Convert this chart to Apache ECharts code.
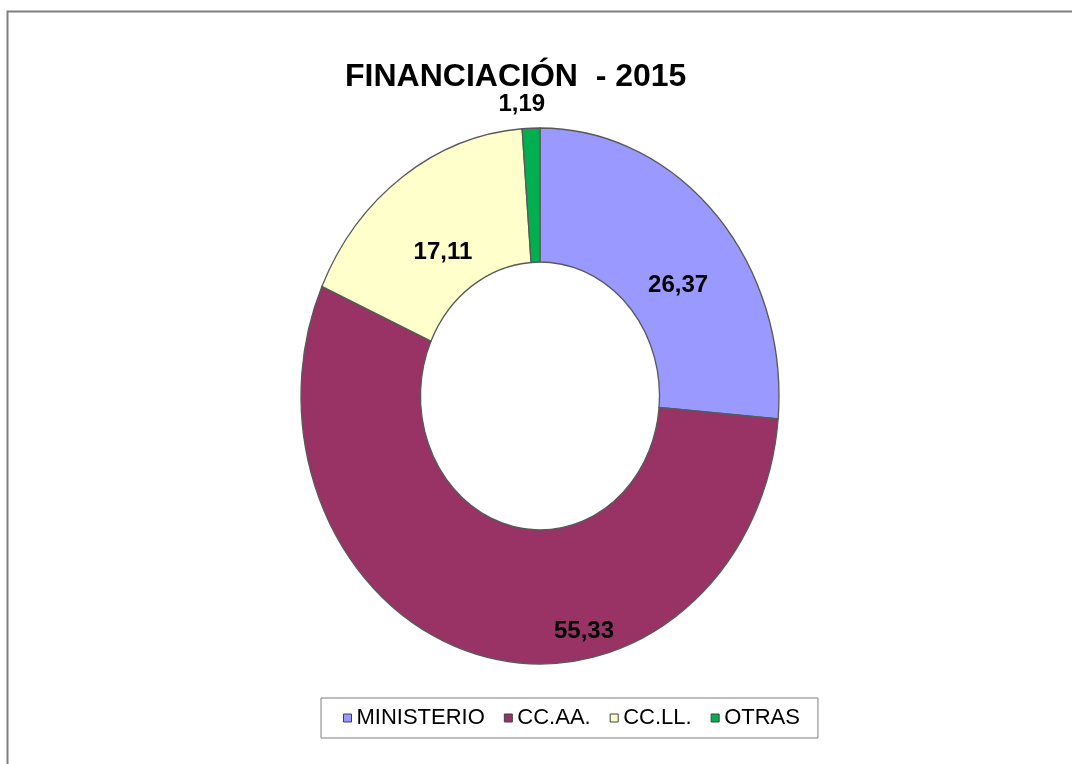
<!DOCTYPE html>
<html>
<head>
<meta charset="utf-8">
<script src="https://cdn.jsdelivr.net/npm/echarts@6/dist/echarts.min.js"></script>
<style>
html,body{margin:0;padding:0;background:#fff;}
#chart{width:1072px;height:764px;}
</style>
</head>
<body>
<div id="chart"></div>
<script>
var categories = ['MINISTERIO', 'CC.AA.', 'CC.LL.', 'OTRAS'];
var values = [26.37, 55.33, 17.11, 1.19];
var colors = ['#9999FF', '#993366', '#FFFFCC', '#00B050'];
var titleText = 'FINANCIACIÓN  - 2015';

// style-only settings
var ellipseRatio = 1.121;               // the ring is drawn taller than wide
var labelNudge = [[6, 25], [89, 41], [6, 21], [-11.5, -91]];
var fontFam = '"Liberation Sans", Arial, sans-serif';

var total = values.reduce(function (a, b) { return a + b; }, 0);
var starts = [];
values.reduce(function (acc, v, i) { starts[i] = acc; return acc + v; }, 0);

function fmt(v) { return String(v).replace('.', ','); }

function makeRender(idx) {
  return function (params, api) {
    var cs = params.coordSys;
    var cx = cs.cx, cy = cs.cy;
    var p0 = api.coord([1, api.value(0)]);
    var p1 = api.coord([1, api.value(1)]);
    var a0 = Math.atan2(p0[1] - cy, p0[0] - cx);
    var a1 = Math.atan2(p1[1] - cy, p1[0] - cx);
    if (a1 <= a0) a1 += Math.PI * 2;
    var am = (a0 + a1) / 2;
    var rm = (cs.r0 + cs.r) / 2;
    var lx = cx + rm * Math.cos(am) + labelNudge[idx][0];
    var ly = cy + rm * Math.sin(am) * ellipseRatio + labelNudge[idx][1];
    return {
      type: 'group',
      children: [{
        type: 'sector',
        shape: {cx: cx, cy: cy, r0: cs.r0, r: cs.r, startAngle: a0, endAngle: a1, clockwise: true},
        scaleY: ellipseRatio,
        originX: cx,
        originY: cy,
        style: {fill: colors[idx], stroke: '#595959', lineWidth: 1.3, strokeNoScale: true}
      }, {
        type: 'text',
        x: lx,
        y: ly,
        style: {
          text: fmt(values[idx]),
          fill: '#000',
          font: 'bold 24px ' + fontFam,
          align: 'center',
          verticalAlign: 'middle'
        }
      }]
    };
  };
}

var chart = echarts.init(document.getElementById('chart'), null, {renderer: 'canvas'});

var option = {
  backgroundColor: '#ffffff',
  animation: false,
  graphic: [{
    type: 'rect',
    shape: {x: 7.5, y: 11.5, width: 1200, height: 900},
    style: {fill: 'none', stroke: '#7f7f7f', lineWidth: 2},
    silent: true,
    z: -10
  }],
  title: {
    text: titleText,
    left: 340,
    top: 56,
    textStyle: {fontFamily: fontFam, fontSize: 32, fontWeight: 'bold', color: '#000'}
  },
  legend: {
    data: categories,
    left: 321,
    top: 698,
    orient: 'horizontal',
    icon: 'rect',
    itemWidth: 8,
    itemHeight: 8,
    itemGap: 19,
    padding: [9, 18, 9, 22],
    backgroundColor: '#ffffff',
    borderColor: '#7f7f7f',
    borderWidth: 1,
    itemStyle: {borderColor: '#404040', borderWidth: 1},
    textStyle: {fontFamily: fontFam, fontSize: 22, color: '#000'},
    selectedMode: false
  },
  polar: {center: [540, 396], radius: [119.5, 239]},
  angleAxis: {type: 'value', min: 0, max: total, startAngle: 90, clockwise: true, show: false},
  radiusAxis: {type: 'value', min: 0, max: 1, show: false},
  series: categories.map(function (c, i) {
    return {
      type: 'custom',
      name: c,
      coordinateSystem: 'polar',
      clip: false,
      silent: true,
      itemStyle: {color: colors[i]},
      data: [[starts[i], starts[i] + values[i]]],
      renderItem: makeRender(i)
    };
  })
};
chart.setOption(option);
</script>
</body>
</html>
